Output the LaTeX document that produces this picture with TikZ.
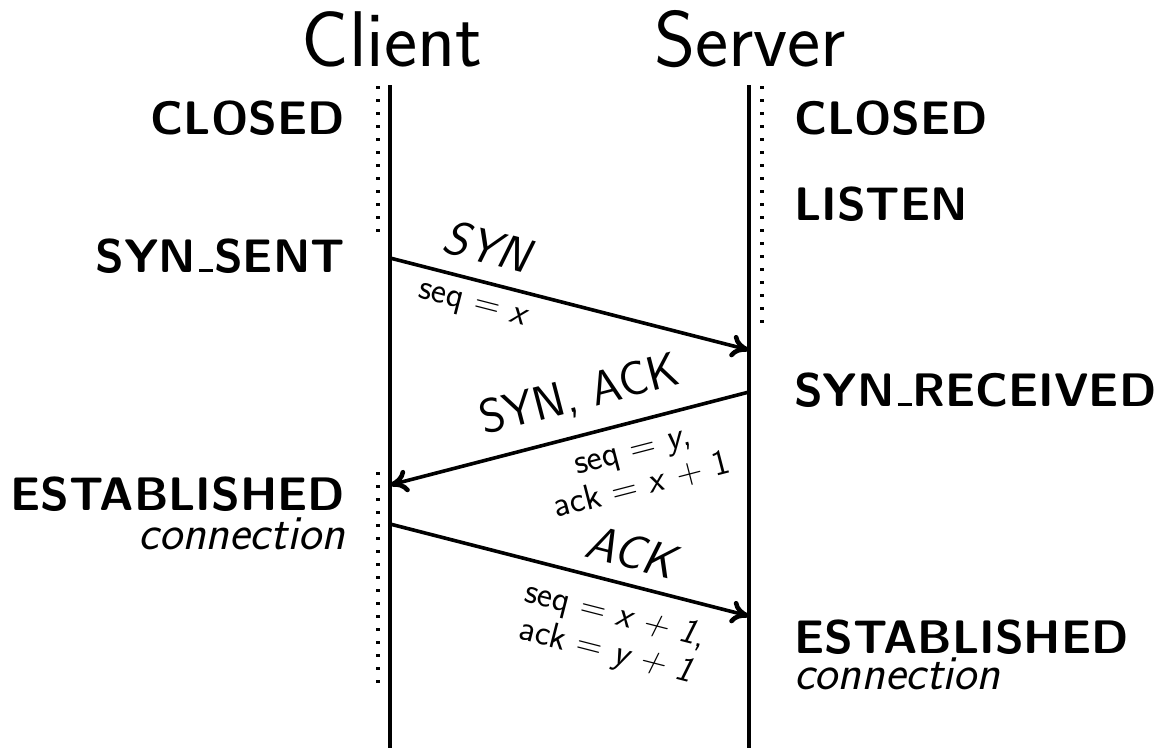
\documentclass[tikz,border=0pt]{standalone}
\usetikzlibrary{arrows.meta}
\newcommand\usc{\kern.06em\rule{.3em}{.06em}\kern.02em}
\begin{document}
\begin{tikzpicture}[x=1pt,y=-1pt,
  life/.style={line width=3.6pt},
  dots/.style={line width=3.4pt, dash pattern=on 3.4pt off 9.6pt},
  msg/.style={line width=3.6pt, -{Computer Modern Rightarrow[length=18pt,width=23pt,line width=4.6pt]}},
  state/.style={font=\sffamily\bfseries\fontsize{47}{52}\selectfont, inner sep=0pt},
  sub/.style={font=\sffamily\itshape\fontsize{49}{54}\selectfont, inner sep=0pt},
  title/.style={font=\sffamily\fontsize{79}{90}\selectfont, inner sep=0pt},
  big/.style={font=\sffamily\fontsize{48}{54}\selectfont, sloped, inner sep=0pt},
  small/.style={font=\sffamily\fontsize{36}{37}\selectfont, sloped, align=center, inner sep=0pt}]
\useasboundingbox (0,0) rectangle (1158,748);

% titles
\node[title, anchor=base] (client) at (392,66) {Client};
\node[title, anchor=base] (server) at (750,66) {Server};

% lifelines
\coordinate (cT) at (390,85); \coordinate (cB) at (390,748);
\coordinate (sT) at (749,85); \coordinate (sB) at (749,748);
\draw[life] (cT) -- (cB);
\draw[life] (sT) -- (sB);

% dotted state spans
\coordinate (d1a) at (378,86); \coordinate (d1b) at (378,232);
\coordinate (d2a) at (378,472); \coordinate (d2b) at (378,686);
\coordinate (d3a) at (762,86); \coordinate (d3b) at (762,324);
\draw[dots] (d1a) -- (d1b);
\draw[dots] (d2a) -- (d2b);
\draw[dots] (d3a) -- (d3b);

% client states
\node[state, anchor=base east] (cclosed) at (345,134) {CLOSED};
\node[state, anchor=base east] (csent) at (345,272) {SYN\usc SENT};
\node[state, anchor=base east] (cest) at (345,510) {ESTABLISHED};
\node[sub, anchor=base east] (ccon) at (345,549) {connection};

% server states
\node[state, anchor=base west] (sclosed) at (794,134) {CLOSED};
\node[state, anchor=base west] (slisten) at (794,220) {LISTEN};
\node[state, anchor=base west] (srecv) at (794,406) {SYN\usc RECEIVED};
\node[state, anchor=base west] (sest) at (794,653) {ESTABLISHED};
\node[sub, anchor=base west] (scon) at (794,689) {connection};

% messages
\coordinate (m1a) at (390,258); \coordinate (m1b) at (749,350);
\coordinate (m2a) at (749,392); \coordinate (m2b) at (390,485);
\coordinate (m3a) at (390,524); \coordinate (m3b) at (749,616);

\draw[msg] (m1a) -- node[big, pos=.25, above=16pt] (l1) {\textit{SYN}}
  node[small, pos=.25, below=14pt] (q1) {seq = \textit{x}} (m1b);
\draw[msg] (m2a) -- node[big, pos=.445, above=17pt] (l2) {SYN, ACK}
  node[small, pos=.343, below=19pt] (q2) {seq = \textit{y},\\ack = \textit{x} + 1} (m2b);
\draw[msg] (m3a) -- node[big, pos=.653, above=14pt] (l3) {\textit{ACK}}
  node[small, pos=.65, below=16pt] (q3) {seq = \textit{x + 1},\\ack = \textit{y + 1}} (m3b);
\end{tikzpicture}
\end{document}
